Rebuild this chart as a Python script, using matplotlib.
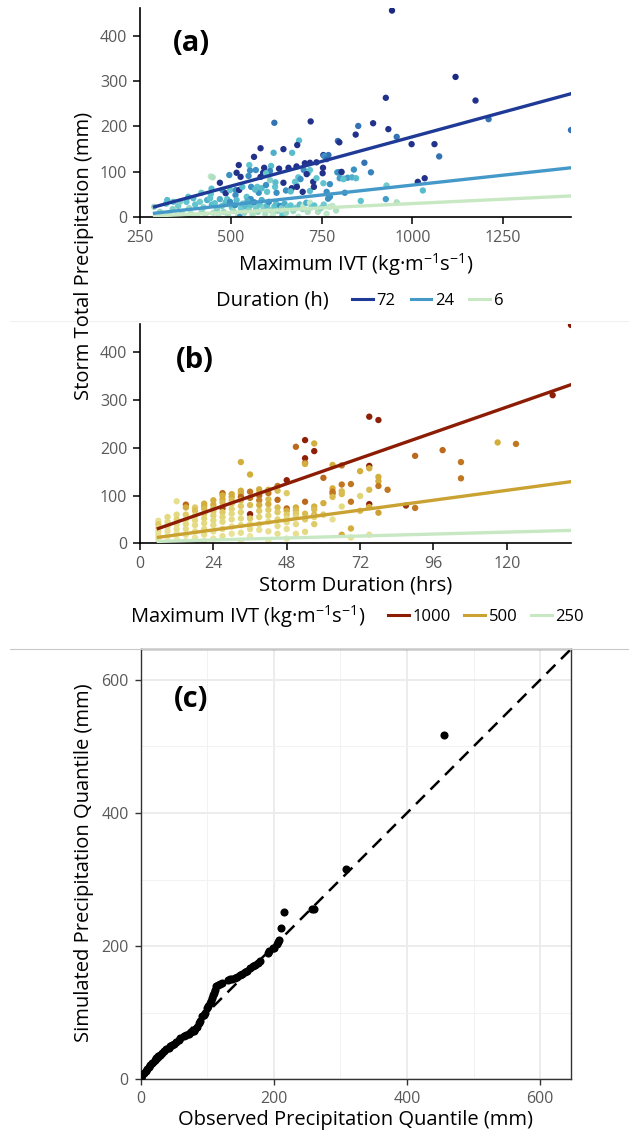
import matplotlib
matplotlib.use('Agg')
import matplotlib.pyplot as plt
import numpy as np
from matplotlib.colors import LinearSegmentedColormap, LogNorm
from matplotlib.lines import Line2D

plt.rcParams['font.family'] = ['Open Sans', 'DejaVu Sans']
plt.rcParams['mathtext.fontset'] = 'custom'
plt.rcParams['mathtext.rm'] = 'Open Sans'
plt.rcParams['mathtext.default'] = 'regular'

# ---- panel (a): storm precip vs max IVT, coloured by duration (h)
a_ivt = [944, 1119, 927, 1174, 1210, 1437, 620, 720, 851, 892, 934, 844, 795, 799, 957, 998,
         1061, 1074, 868, 886, 793, 804, 839, 800, 812, 822, 834, 845, 773, 1015, 1034, 1029,
         929, 814, 858, 927, 957, 773, 582, 564, 645, 618, 669, 688, 683, 755, 769, 757,
         764, 754, 736, 718, 704, 681, 659, 633, 611, 608, 592, 589, 597, 582, 608, 569,
         551, 553, 549, 522, 516, 496, 527, 445, 450, 470, 477, 445, 447, 419, 383, 325,
         289, 486, 498, 514, 523, 513, 532, 544, 555, 573, 577, 556, 567, 585, 597, 600,
         622, 623, 626, 645, 652, 668, 677, 681, 686, 692, 701, 718, 713, 709, 665, 682,
         698, 718, 727, 729, 736, 753, 755, 764, 768, 796, 805, 810,
         300, 305, 315, 322, 330, 340, 342, 350, 355, 360, 365, 372, 378, 385, 390, 397,
         402, 408, 415, 420, 425, 430, 435, 443, 448, 452, 456, 462, 466, 470, 476, 480,
         486, 490, 492, 498, 503, 507, 512, 516, 520, 525, 528, 533, 537, 541, 546, 550,
         555, 560, 565, 570, 575, 580, 585, 590, 595, 600, 605, 610, 615, 617, 620, 625,
         630, 636, 640, 642, 648, 652, 658, 665, 672, 680, 686, 690, 698, 700, 708, 712,
         718, 722, 730, 740, 748, 756, 764, 773, 780, 790]
a_precip = [455, 309, 263, 257, 216, 192, 208, 211, 201, 207, 194, 182, 168, 165, 177, 161,
            161, 134, 120, 99, 99, 99, 105, 86, 85, 87, 88, 86, 73, 78, 86, 59,
            70, 54, 36, 40, 33, 45, 152, 133, 150, 142, 142, 169, 159, 137, 137, 135,
            128, 109, 121, 120, 119, 112, 109, 107, 113, 102, 109, 98, 97, 89, 82, 104,
            115, 103, 91, 115, 98, 93, 89, 90, 88, 76, 60, 51, 63, 54, 45, 38,
            23, 53, 60, 60, 60, 49, 67, 45, 40, 67, 54, 67, 61, 64, 71, 56,
            67, 77, 54, 76, 59, 64, 78, 71, 88, 84, 104, 104, 98, 95, 57, 67,
            56, 58, 78, 67, 86, 97, 75, 56, 41, 99, 100, 84,
            5, 12, 2, 30, 8, 18, 34, 4, 25, 34, 12, 2, 34, 20, 8, 42,
            28, 3, 34, 15, 22, 6, 38, 42, 28, 10, 31, 18, 3, 40, 25, 12,
            33, 40, 6, 34, 22, 14, 27, 38, 4, 1, 20, 30, 10, 24, 36, 16,
            27, 5, 33, 20, 12, 28, 38, 22, 7, 26, 34, 16, 2, 9, 24, 30,
            14, 25, 20, 4, 30, 10, 22, 26, 14, 21, 1, 28, 18, 25, 32, 12,
            32, 22, 26, 12, 20, 28, 8, 23, 25, 15]
a_dur = [120, 120, 96, 96, 48, 48, 48, 96, 48, 96, 96, 96, 48, 96, 48, 96,
         96, 48, 48, 40, 24, 96, 36, 30, 24, 30, 24, 20, 36, 96, 96, 20,
         16, 36, 18, 30, 10, 36, 96, 96, 96, 24, 20, 20, 96, 96, 48, 36,
         48, 96, 96, 96, 96, 96, 96, 96, 20, 40, 96, 96, 18, 96, 14, 36,
         18, 36, 36, 96, 96, 36, 96, 8, 10, 96, 36, 18, 20, 16, 20, 20,
         12, 96, 18, 36, 96, 36, 20, 18, 36, 18, 36, 36, 20, 20, 36, 18,
         18, 20, 36, 96, 36, 96, 18, 18, 18, 36, 36, 18, 18, 96, 20, 96,
         96, 20, 96, 96, 18, 96, 18, 36, 36, 36, 96, 18,
         8, 12, 8, 18, 10, 14, 18, 8, 16, 14, 10, 8, 18, 12, 10, 20,
         18, 8, 16, 12, 14, 8, 24, 18, 20, 10, 18, 14, 8, 24, 16, 12,
         20, 18, 10, 36, 18, 12, 36, 20, 8, 36, 16, 18, 12, 20, 24, 14,
         18, 10, 36, 16, 12, 18, 24, 14, 10, 20, 36, 14, 8, 8, 18, 20,
         12, 36, 14, 18, 24, 12, 16, 18, 12, 16, 8, 20, 12, 8, 24, 10,
         8, 14, 18, 10, 14, 16, 8, 8, 8, 10]

a_line_ivt = [290, 1437]
a_line_72 = [23, 272]
a_line_24 = [9, 109]
a_line_6 = [3, 47]

# ---- panel (b): storm precip vs duration, coloured by max IVT
b_dur = [141, 135, 117, 123, 99, 105, 105, 90, 90, 87, 81, 78, 75, 78, 78, 78, 78,
         75, 75, 75, 75, 75, 75, 72, 72, 72, 69, 69, 69, 69, 66, 66, 66, 66, 66, 66,
         63, 63, 63, 63, 63, 63, 60, 60, 60, 57, 57, 57, 57, 57, 57, 57,
         54, 51, 54, 54, 54, 54, 54, 54, 54, 51, 51, 51, 51, 51, 51,
         48, 48, 48, 48, 48, 48, 48, 48, 48, 45, 45, 45, 45, 45, 45, 45, 45,
         42, 42, 42, 42, 42, 42, 42, 42, 42, 39, 39, 39, 39, 39, 39, 39, 39, 39,
         36, 36, 36, 36, 36, 36, 36, 36, 36, 33, 33, 33, 33, 33, 33, 33, 33, 33, 33, 33,
         30, 30, 30, 30, 30, 30, 30, 30, 30, 27, 27, 27, 27, 27, 27, 27, 27, 27, 27,
         24, 24, 24, 24, 24, 24, 24, 24, 24, 21, 21, 21, 21, 21, 21, 21, 21, 21,
         18, 18, 18, 18, 18, 18, 18, 15, 15, 15, 15, 15, 15, 15, 15,
         12, 12, 12, 12, 12, 12, 12, 9, 9, 9, 9, 9, 9, 6, 6, 6, 6, 6, 6, 6]
b_precip = [457, 310, 211, 208, 195, 170, 136, 183, 74, 79, 112, 258, 265, 139, 130, 120, 64,
            162, 157, 112, 82, 76, 18, 151, 99, 68, 124, 87, 31, 12, 163, 123, 109, 103, 77, 18,
            164, 115, 108, 104, 97, 50, 137, 84, 60, 209, 193, 77, 71, 60, 55, 40,
            216, 202, 178, 168, 166, 87, 62, 50, 24, 75, 69, 62, 55, 40, 20,
            132, 105, 73, 68, 60, 52, 44, 30, 10, 120, 110, 91, 75, 65, 50, 36, 20,
            112, 105, 92, 82, 70, 58, 45, 25, 5, 113, 105, 100, 90, 80, 68, 55, 40, 28,
            144, 108, 95, 80, 61, 52, 40, 30, 15, 170, 110, 104, 97, 90, 78, 65, 52, 38, 22, 5,
            103, 97, 90, 83, 72, 62, 50, 35, 20, 105, 100, 92, 85, 73, 65, 55, 45, 30, 15,
            90, 81, 73, 67, 58, 48, 38, 25, 10, 83, 78, 72, 62, 52, 42, 30, 18, 5,
            75, 68, 58, 48, 38, 25, 12, 81, 75, 60, 50, 40, 30, 18, 5,
            88, 60, 50, 40, 30, 20, 8, 55, 45, 35, 25, 15, 5, 47, 40, 32, 25, 18, 10, 3]
b_ivt = [1200, 1100, 550, 750, 800, 750, 750, 800, 750, 1000, 750, 1100, 1100, 550, 550, 750, 600,
         1100, 550, 500, 1100, 550, 350, 550, 420, 500, 750, 750, 550, 350, 750, 750, 500, 500, 400, 550,
         550, 550, 750, 750, 500, 350, 800, 550, 450, 550, 1100, 550, 500, 500, 420, 450,
         1100, 800, 1100, 800, 550, 800, 500, 450, 400, 550, 500, 450, 420, 380, 350,
         1100, 450, 800, 550, 450, 400, 380, 350, 300, 750, 500, 800, 500, 450, 420, 380, 350,
         550, 750, 500, 550, 450, 420, 380, 350, 300, 550, 550, 800, 700, 550, 450, 420, 380, 350,
         550, 750, 750, 500, 1100, 450, 400, 380, 320, 550, 550, 550, 800, 500, 450, 420, 400, 380, 350, 300,
         550, 550, 500, 450, 420, 400, 380, 350, 330, 800, 550, 550, 500, 900, 450, 420, 400, 380, 350,
         550, 550, 500, 450, 420, 400, 380, 350, 320, 550, 550, 500, 450, 420, 400, 380, 350, 300,
         450, 500, 420, 400, 380, 350, 320, 800, 550, 450, 420, 400, 380, 350, 300,
         350, 400, 420, 380, 360, 340, 300, 400, 380, 360, 340, 320, 290, 350, 450, 380, 360, 340, 320, 290]

b_line_dur = [6, 141]
b_line_1000 = [31, 332]
b_line_500 = [12.5, 129]
b_line_250 = [4, 27]

# ---- panel (c): quantile-quantile
obs_q = [0, 0.6, 3, 5, 8, 10, 12.5, 15, 18, 21.6, 24, 27, 30, 32.5, 35, 38, 42.5, 45, 48, 50,
         53, 57.5, 60, 65, 69, 72.4, 76, 80, 82, 85, 88, 90, 92, 95, 97.5, 100, 102, 104, 106,
         107.5, 109, 110, 112, 114, 117, 120, 123, 132, 135, 137, 142, 145, 150, 152, 157, 160,
         165, 169, 172, 176, 179, 192, 193, 199, 201, 205, 207, 208, 211, 215, 258, 261, 309, 455]
sim_q = [2, 4, 7, 10, 13, 16, 19, 22, 25, 29, 32, 35, 37, 39, 42, 45, 46.5, 50, 52, 53,
         56, 59, 62, 65, 67, 68, 71, 72, 75, 79, 84, 87, 95, 97, 99, 107, 110, 114, 118,
         122, 126, 129, 134, 140, 142, 143, 144, 149, 150, 151, 152, 154, 157, 158, 161, 163,
         167, 170, 172, 175, 177, 189, 192, 197, 197, 204, 207, 210, 228, 251, 256, 256, 316, 517]

cmap_a = LinearSegmentedColormap.from_list(
    'dur', [(0, '#d5efcf'), (0.2, '#a8dcc0'), (0.37, '#5ec3cf'), (0.6, '#3a8fc3'),
            (0.9, '#24358f'), (1, '#1b2a80')])
norm_a = LogNorm(6, 120)
cmap_b = LinearSegmentedColormap.from_list(
    'ivt', [(0, '#d9eec5'), (0.1, '#ece8a8'), (0.3, '#e2d77a'), (0.48, '#d4ae3c'),
            (0.69, '#bf6f1f'), (0.9, '#8f2008'), (1, '#7d1200')])
norm_b = LogNorm(250, 1300)

TICK_GRAY = '#595959'
LABEL_SIZE = 14.5
TICK_SIZE = 11.5


def classic_axes(ax):
    for s in ['top', 'right']:
        ax.spines[s].set_visible(False)
    for s in ['left', 'bottom']:
        ax.spines[s].set_linewidth(1.2)
        ax.spines[s].set_color('black')
    ax.tick_params(direction='out', length=4.7, width=1.1, color='black',
                   labelcolor=TICK_GRAY, labelsize=TICK_SIZE, pad=4.5)


fig = plt.figure(figsize=(6.29, 11.35), dpi=100)

# panel a
ax1 = fig.add_axes([140 / 629, 1 - 217.3 / 1135, 431 / 629, 209 / 1135])
ax1.scatter(a_ivt, a_precip, c=a_dur, cmap=cmap_a, norm=norm_a, s=21, linewidths=0, zorder=2)
ax1.plot(a_line_ivt, a_line_6, color='#c8e8c4', lw=2.4, zorder=3)
ax1.plot(a_line_ivt, a_line_24, color='#4499c9', lw=2.4, zorder=3)
ax1.plot(a_line_ivt, a_line_72, color='#1f3a96', lw=2.4, zorder=3)
ax1.set_xlim(250, 1437)
ax1.set_ylim(0, 460)
ax1.set_xticks([250, 500, 750, 1000, 1250])
ax1.set_yticks([0, 100, 200, 300, 400])
classic_axes(ax1)
ax1.text(0.12, 0.83, '(a)', transform=ax1.transAxes, fontsize=21, fontweight='bold', ha='center', va='center')

# panel b
ax2 = fig.add_axes([140 / 629, 1 - 543.3 / 1135, 431 / 629, 219.3 / 1135])
ax2.scatter(b_dur, b_precip, c=b_ivt, cmap=cmap_b, norm=norm_b, s=21, linewidths=0, zorder=2)
ax2.plot(b_line_dur, b_line_250, color='#c8e8c4', lw=2.4, zorder=3)
ax2.plot(b_line_dur, b_line_500, color='#c9a232', lw=2.4, zorder=3)
ax2.plot(b_line_dur, b_line_1000, color='#8c1c04', lw=2.4, zorder=3)
ax2.set_xlim(0, 141)
ax2.set_ylim(0, 459)
ax2.set_xticks([0, 24, 48, 72, 96, 120])
ax2.set_yticks([0, 100, 200, 300, 400])
classic_axes(ax2)
ax2.text(0.127, 0.835, '(b)', transform=ax2.transAxes, fontsize=21, fontweight='bold', ha='center', va='center')

# panel c
ax3 = fig.add_axes([140.5 / 629, 1 - 1079.3 / 1135, 430.3 / 629, 430 / 1135])
ax3.set_axisbelow(True)
ax3.set_xlim(0, 646)
ax3.set_ylim(0, 646)
ax3.set_xticks([0, 200, 400, 600])
ax3.set_yticks([0, 200, 400, 600])
ax3.set_xticks([100, 300, 500], minor=True)
ax3.set_yticks([100, 300, 500], minor=True)
ax3.grid(which='major', color='#ebebeb', lw=1.3)
ax3.grid(which='minor', color='#f2f2f2', lw=0.7)
ax3.tick_params(which='minor', length=0)
ax3.tick_params(direction='out', length=4, width=1.0, color='#333333',
                labelcolor=TICK_GRAY, labelsize=TICK_SIZE, pad=4.5)
for s in ax3.spines.values():
    s.set_color('#333333')
    s.set_linewidth(1.0)
ax3.plot([0, 646], [0, 646], color='black', lw=1.8, dashes=(5, 3.2), zorder=3)
ax3.scatter(obs_q, sim_q, color='black', s=34, linewidths=0, zorder=4)
ax3.text(0.118, 0.883, '(c)', transform=ax3.transAxes, fontsize=21, fontweight='bold', ha='center', va='center')

# axis titles
fig.text(84 / 629, 1 - 256 / 1135, 'Storm Total Precipitation (mm)', rotation=90,
         ha='center', va='center', fontsize=LABEL_SIZE)
fig.text(355.5 / 629, 1 - 265 / 1135, 'Maximum IVT (kg·m$^{-1}$s$^{-1}$)',
         ha='center', va='center', fontsize=LABEL_SIZE)
fig.text(355.5 / 629, 1 - 585 / 1135, 'Storm Duration (hrs)', ha='center', va='center', fontsize=LABEL_SIZE)
fig.text(355.5 / 629, 1 - 1120 / 1135, 'Observed Precipitation Quantile (mm)',
         ha='center', va='center', fontsize=LABEL_SIZE)
fig.text(84 / 629, 1 - 863 / 1135, 'Simulated Precipitation Quantile (mm)', rotation=90,
         ha='center', va='center', fontsize=LABEL_SIZE)

# legends
fig.text(216 / 629, 1 - 300.7 / 1135, 'Duration (h)', ha='left', va='center', fontsize=LABEL_SIZE)
h_a = [Line2D([], [], color='#1f3a96', lw=2.2), Line2D([], [], color='#4499c9', lw=2.2),
       Line2D([], [], color='#c8e8c4', lw=2.2)]
fig.legend(h_a, ['72', '24', '6'], loc='center left', bbox_to_anchor=(352 / 629, 1 - 300.7 / 1135),
           ncol=3, frameon=False, fontsize=12, handlelength=1.25, handletextpad=0.22,
           columnspacing=0.9, borderpad=0, borderaxespad=0)

fig.text(129.7 / 629, 1 - 616.7 / 1135, 'Maximum IVT (kg·m$^{-1}$s$^{-1}$)',
         ha='left', va='center', fontsize=LABEL_SIZE)
h_b = [Line2D([], [], color='#8c1c04', lw=2.2), Line2D([], [], color='#c9a232', lw=2.2),
       Line2D([], [], color='#c8e8c4', lw=2.2)]
fig.legend(h_b, ['1000', '500', '250'], loc='center left', bbox_to_anchor=(388 / 629, 1 - 616.7 / 1135),
           ncol=3, frameon=False, fontsize=12, handlelength=1.25, handletextpad=0.22,
           columnspacing=0.8, borderpad=0, borderaxespad=0)

# panel separators
fig.add_artist(Line2D([0.016, 1], [1 - 320.7 / 1135] * 2, transform=fig.transFigure, color='#f0f0f0', lw=0.8))
fig.add_artist(Line2D([0.016, 1], [1 - 648.5 / 1135] * 2, transform=fig.transFigure, color='#c8c8c8', lw=0.8))

fig.savefig('out.png', dpi=100)
